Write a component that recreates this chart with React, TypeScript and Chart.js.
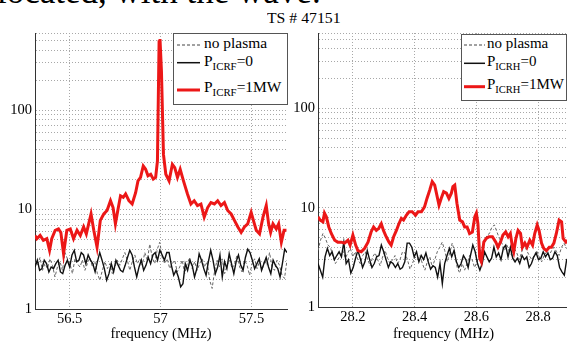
import React, { useEffect, useRef } from 'react';
import { Chart, registerables } from 'chart.js';

Chart.register(...registerables);

// ---------- data ----------
const TITLE = 'TS # 47151';
const X_TITLE = 'frequency (MHz)';
const Y_LABELS = [1, 10, 100];

// left panel (around 57 MHz)
const L_XTICKS = [56.5, 57, 57.5];
const L_XMIN = 56.31;
const L_XMAX = 57.695;
const L_YMAX = 600;
const L_RED_F = [56.310,56.320,56.338,56.356,56.375,56.390,56.402,56.421,56.439,56.452,
  56.467,56.485,56.504,56.522,56.541,56.559,56.577,56.592,56.605,56.618,
  56.633,56.651,56.669,56.688,56.706,56.725,56.739,56.752,56.765,56.780,
  56.795,56.808,56.826,56.844,56.863,56.876,56.890,56.905,56.918,56.931,
  56.946,56.960,56.973,56.983,56.992,56.997,57.005,57.016,57.029,57.047,
  57.065,57.078,57.093,57.108,57.126,57.148,57.167,57.185,57.203,57.222,
  57.240,57.259,57.277,57.296,57.314,57.332,57.351,57.369,57.388,57.406,
  57.425,57.443,57.461,57.479,57.498,57.513,57.526,57.544,57.563,57.581,
  57.594,57.605,57.618,57.636,57.649,57.664,57.679,57.692];
const L_RED = [5.5,5.1,5.5,4.9,5.1,3.9,5.1,6.2,6.4,5.9,
  3.6,6.2,6.4,5.1,6.2,5.5,6.7,5.7,7.2,9.05,
  6.2,4.2,7.8,9.05,9.8,12.3,10.5,7.2,9.8,13.8,
  13.3,14.4,12.3,11.4,14.8,19.5,21.1,27.5,25.5,21.9,
  22.7,20.3,21.1,30.9,490,521,245,36,22.7,19.5,
  28.6,26.5,21.1,25.5,19.5,14.4,11.4,12.3,11.0,11.4,
  8.4,10.5,11.8,11.4,12.3,11.0,11.8,9.8,9.05,7.8,
  6.7,5.9,6.7,7.2,9.4,7.5,6.2,5.7,8.4,11.0,
  7.2,5.9,7.2,6.4,7.2,4.7,6.2,6.2];
const L_BLACK = [2.65,3.1,2.45,2.55,3.1,2.86,2.36,2.65,2.55,2.86,3.1,2.36,2.27,2.75,3.1,2.65,3.5,3.9,3.0,3.1,
  3.7,3.5,2.86,3.5,3.1,2.86,2.36,3.0,3.7,3.1,2.55,1.95,2.27,2.86,2.36,3.1,2.75,2.45,2.36,2.75,
  3.3,3.9,3.5,2.65,2.1,2.65,3.1,2.45,2.75,3.3,2.86,3.5,3.7,3.1,3.9,3.5,3.1,3.7,3.7,2.75,
  2.19,2.45,2.1,1.67,1.8,2.86,2.45,3.1,2.75,2.1,2.55,3.6,3.1,2.55,2.19,3.0,3.9,3.1,2.27,2.65,
  3.5,2.1,3.0,2.55,3.6,2.86,2.27,3.0,3.5,2.75,2.45,3.3,4.0,3.7,3.1,2.55,2.86,3.2,2.45,2.86,
  3.3,2.65,2.27,3.1,2.75,2.55,2.1,2.86,4.0,3.7];
const L_NOPLASMA = [3.0,2.75,3.3,2.45,2.86,2.55,3.2,2.75,2.1,2.65,3.0,2.45,3.7,3.2,2.86,2.27,3.2,2.86,2.65,3.1,
  2.45,2.86,3.3,2.65,3.0,2.27,1.95,2.45,3.0,2.55,2.86,2.27,2.65,3.1,2.75,3.2,3.7,3.1,2.45,3.0,
  3.5,2.86,3.2,2.75,3.7,3.1,4.5,3.3,2.86,4.0,4.7,3.3,2.86,3.2,2.55,2.86,3.1,2.36,2.65,3.1,
  2.27,2.86,3.3,2.55,3.0,2.45,2.86,3.2,2.65,3.0,1.95,1.61,2.45,3.1,2.65,3.2,2.27,2.75,3.1,2.55,
  2.86,3.5,2.65,2.36,3.1,2.75,2.19,2.86,3.2,2.55,3.0,2.45,3.1,2.75,3.7,2.65,2.45,3.1,2.75,2.19,
  2.03,3.1];

// right panel (around 28.5 MHz)
const R_XTICKS = [28.2, 28.4, 28.6, 28.8];
const R_XMIN = 28.087;
const R_XMAX = 28.9;
const R_YMAX = 575;
const R_RED_F = [28.087,28.094,28.103,28.108,28.114,28.122,28.130,28.141,28.151,28.162,
  28.173,28.184,28.191,28.200,28.209,28.216,28.227,28.238,28.249,28.259,
  28.267,28.276,28.284,28.292,28.299,28.308,28.317,28.324,28.332,28.341,
  28.349,28.357,28.364,28.373,28.382,28.392,28.403,28.411,28.422,28.432,
  28.440,28.449,28.457,28.465,28.472,28.479,28.486,28.494,28.503,28.511,
  28.519,28.524,28.530,28.537,28.546,28.555,28.562,28.570,28.578,28.587,
  28.595,28.600,28.605,28.611,28.616,28.624,28.632,28.641,28.652,28.663,
  28.670,28.678,28.686,28.695,28.703,28.710,28.717,28.721,28.728,28.735,
  28.743,28.749,28.757,28.764,28.773,28.782,28.789,28.797,28.803,28.811,
  28.818,28.827,28.836,28.843,28.851,28.859,28.868,28.876,28.881,28.890,28.895];
const R_RED = [8.1,7.5,7.2,8.8,8.1,6.4,5.5,4.7,4.5,4.5,
  4.4,4.7,4.2,5.3,4.2,3.7,3.6,3.9,4.5,5.7,
  6.4,5.9,6.2,6.9,5.9,5.1,4.5,4.2,5.1,5.9,
  6.9,7.8,7.5,8.4,9.1,9.1,8.4,9.1,9.1,10.2,
  12.4,15.1,18.3,16.9,13.4,10.6,12.4,14.5,14.0,12.4,
  14.0,16.3,16.9,11.1,7.5,7.2,6.4,6.4,5.5,5.7,
  8.1,8.8,6.9,3.1,2.85,4.5,4.9,5.1,5.1,4.5,
  4.0,4.5,5.3,5.7,5.1,5.5,4.0,3.6,4.9,5.9,
  5.5,4.0,4.4,4.0,4.7,4.2,5.5,6.7,5.9,4.4,
  3.9,3.7,4.0,4.0,4.4,5.5,7.5,7.2,4.9,4.5,4.7];
const R_BLACK = [2.74,2.35,2.0,3.2,3.9,3.3,3.6,3.0,3.3,3.6,3.2,4.5,2.74,3.0,2.2,2.5,3.1,3.7,3.1,2.5,
  2.85,3.7,3.0,2.5,2.74,3.2,3.3,4.2,3.6,3.0,2.5,2.85,2.74,2.5,2.74,2.4,2.5,2.85,4.4,4.4,
  4.0,3.2,3.6,2.85,3.3,3.0,3.5,2.85,2.4,2.6,2.5,2.0,2.74,1.72,2.74,3.3,3.9,3.2,3.7,2.85,
  2.5,2.74,3.3,3.0,2.5,3.3,4.2,3.6,2.74,2.35,2.74,3.6,3.2,2.85,3.1,4.0,3.2,3.5,3.0,3.9,
  4.2,3.2,4.0,3.1,2.85,3.1,2.74,3.3,3.0,3.2,2.5,2.74,3.2,3.5,3.0,3.1,3.6,3.2,3.5,3.0,
  3.1,3.6,3.3,2.5,2.26,2.09,3.0,3.1];
const R_NOPLASMA = [3.7,4.7,5.5,4.9,4.2,4.0,3.2,2.74,3.0,3.3,3.7,3.1,3.5,3.9,3.2,3.6,3.0,2.74,3.3,3.6,
  3.0,2.6,3.2,3.5,3.0,2.6,3.2,3.7,3.1,2.74,3.0,3.3,2.74,3.0,3.6,3.5,3.0,2.4,2.74,3.2,
  3.0,3.3,2.74,2.35,2.85,3.2,2.5,3.0,3.6,4.0,4.5,3.7,2.85,3.5,4.4,3.6,2.5,2.2,2.74,2.35,
  2.74,3.3,3.0,2.5,2.85,3.5,4.0,4.5,5.3,5.5,6.4,6.7,5.7,4.9,4.4,3.7,4.2,3.6,3.3,3.9,
  3.5,3.0,3.6,4.2,3.7,3.3,3.0,3.3,3.7,3.2,2.85,3.3,3.6,3.3,3.7,4.0,3.6,3.3,4.0,4.4,
  3.9,4.0];

// ---------- helpers ----------
const SERIF = '"Liberation Serif", "Times New Roman", serif';
const RED = '#ec1717';

// evenly sampled frequency axis of a spectrum
const sampleAxis = (a: number, b: number, n: number) =>
  Array.from({ length: n }, (_, i) => a + ((b - a) * i) / (n - 1));

const logGridTicks = (max: number) => {
  const t: number[] = [];
  for (let e = 0; e < 3; e++) {
    for (let m = 1; m <= 9; m++) {
      const v = m * Math.pow(10, e);
      if (v <= max) t.push(v);
    }
  }
  if (t[t.length - 1] !== max) t.push(max);
  return t;
};

type PanelProps = {
  left: number;
  width: number;
  xMin: number;
  xMax: number;
  xTicks: number[];
  yMax: number;
  redF: number[];
  red: number[];
  black: number[];
  dashed: number[];
  yAxisWidth: number;
  xAxisHeight: number;
  padRight: number;
};

function Panel(p: PanelProps) {
  const ref = useRef<HTMLCanvasElement | null>(null);
  useEffect(() => {
    if (!ref.current) return;
    const fb = sampleAxis(p.xMin, p.xMax, p.black.length);
    const fd = sampleAxis(p.xMin, p.xMax, p.dashed.length);
    const font = { family: SERIF, size: 14.5 };
    const chart = new Chart(ref.current, {
      type: 'line',
      data: {
        datasets: [
          {
            label: '1MW',
            data: p.redF.map((x, i) => ({ x, y: p.red[i] })),
            borderColor: RED,
            borderWidth: 3,
            pointRadius: 0,
            tension: 0,
            fill: false,
          },
          {
            label: '0',
            data: fb.map((x, i) => ({ x, y: p.black[i] })),
            borderColor: '#111',
            borderWidth: 1.4,
            pointRadius: 0,
            tension: 0,
            fill: false,
          },
          {
            label: 'no plasma',
            data: fd.map((x, i) => ({ x, y: p.dashed[i] })),
            borderColor: '#666',
            borderWidth: 1,
            borderDash: [3, 2],
            pointRadius: 0,
            tension: 0,
            fill: false,
          },
        ],
      },
      options: {
        animation: false,
        responsive: false,
        devicePixelRatio: 1,
        events: [],
        layout: { padding: { top: 33, right: p.padRight, left: 0, bottom: 0 } },
        plugins: { legend: { display: false }, tooltip: { enabled: false } },
        scales: {
          x: {
            type: 'linear',
            min: p.xMin,
            max: p.xMax,
            bounds: 'data',
            afterBuildTicks: (s: any) => {
              s.ticks = p.xTicks.map((v) => ({ value: v }));
            },
            afterFit: (s: any) => {
              s.height = p.xAxisHeight;
            },
            ticks: {
              autoSkip: false,
              maxRotation: 0,
              padding: 1,
              color: '#000',
              font,
              callback: (v: any) => String(v),
            },
            grid: { color: '#a8a8a8', lineWidth: 1, drawTicks: false },
            border: { display: true, color: '#333', width: 1, dash: [1, 2] },
            title: {
              display: true,
              text: X_TITLE,
              color: '#000',
              font,
              padding: { top: 0, bottom: 0 },
            },
          },
          y: {
            type: 'logarithmic',
            min: 1,
            max: p.yMax,
            afterBuildTicks: (s: any) => {
              s.ticks = logGridTicks(p.yMax).map((v) => ({ value: v }));
            },
            afterFit: (s: any) => {
              s.width = p.yAxisWidth;
            },
            ticks: {
              autoSkip: false,
              padding: 3,
              color: '#000',
              font,
              callback: (v: any) => (Y_LABELS.includes(Number(v)) ? String(v) : ''),
            },
            grid: { color: '#a8a8a8', lineWidth: 1, drawTicks: false },
            border: { display: true, color: '#333', width: 1, dash: [1, 2] },
          },
        },
      } as any,
    });
    return () => chart.destroy();
  }, []);
  return (
    <canvas
      ref={ref}
      width={p.width}
      height={343}
      style={{ position: 'absolute', left: p.left, top: 0, width: p.width, height: 343 }}
    />
  );
}

type LegendProps = {
  left: number;
  top: number;
  width: number;
  height: number;
  sub: string;
  lineX1: number;
  lineX2: number;
  textX: number;
  lineY: number[];
  baseY: number[];
  dashText: string;
  stretch: number;
};

function Legend(l: LegendProps) {
  const fs = 15;
  const rowTop = (b: number) => b - l.top - 0.8375 * fs;
  const txt: React.CSSProperties = {
    position: 'absolute',
    left: l.textX - l.left,
    fontSize: fs,
    lineHeight: `${fs}px`,
    whiteSpace: 'nowrap',
    color: '#000',
    transform: `scaleX(${l.stretch})`,
    transformOrigin: 'left center',
  };
  const subStyle: React.CSSProperties = { fontSize: 10.5, position: 'relative', top: 4 };
  return (
    <div
      style={{
        position: 'absolute',
        left: l.left,
        top: l.top,
        width: l.width,
        height: l.height,
        boxSizing: 'border-box',
        border: '1px solid #555',
        background: '#fff',
        zIndex: 2,
        fontFamily: SERIF,
      }}
    >
      <svg
        width={l.width}
        height={l.height}
        style={{ position: 'absolute', left: -1, top: -1 }}
      >
        <line x1={l.lineX1 - l.left} x2={l.lineX2 - l.left} y1={l.lineY[0] - l.top} y2={l.lineY[0] - l.top} stroke="#444" strokeWidth={1} strokeDasharray="3,2" />
        <line x1={l.lineX1 - l.left} x2={l.lineX2 - l.left} y1={l.lineY[1] - l.top} y2={l.lineY[1] - l.top} stroke="#111" strokeWidth={1.5} />
        <line x1={l.lineX1 - l.left} x2={l.lineX2 - l.left} y1={l.lineY[2] - l.top} y2={l.lineY[2] - l.top} stroke={RED} strokeWidth={3} />
      </svg>
      <div style={{ ...txt, top: rowTop(l.baseY[0]) - 1 }}>{l.dashText}</div>
      <div style={{ ...txt, top: rowTop(l.baseY[1]) - 1 }}>
        P<span style={subStyle}>{l.sub}</span>=0
      </div>
      <div style={{ ...txt, top: rowTop(l.baseY[2]) - 1 }}>
        P<span style={subStyle}>{l.sub}</span>=1MW
      </div>
    </div>
  );
}

export default function App() {
  return (
    <div
      style={{
        position: 'fixed',
        left: 0,
        top: 0,
        width: 567,
        height: 343,
        overflow: 'hidden',
        background: '#fff',
        fontFamily: SERIF,
      }}
    >
      <div
        style={{
          position: 'absolute',
          left: -3,
          top: -26,
          fontSize: 35,
          lineHeight: '35px',
          whiteSpace: 'nowrap',
          color: '#000',
        }}
      >
        located, with the wave.
      </div>
      <div
        style={{
          position: 'absolute',
          left: 267,
          top: 11,
          fontSize: 15,
          lineHeight: '15px',
          whiteSpace: 'nowrap',
          color: '#000',
          transform: 'scaleX(1.05)',
          transformOrigin: 'left center',
        }}
      >
        {TITLE}
      </div>
      <Panel
        left={0}
        width={290}
        xMin={L_XMIN}
        xMax={L_XMAX}
        xTicks={L_XTICKS}
        yMax={L_YMAX}
        redF={L_RED_F}
        red={L_RED}
        black={L_BLACK}
        dashed={L_NOPLASMA}
        yAxisWidth={35}
        xAxisHeight={34}
        padRight={3}
      />
      <Panel
        left={290}
        width={290}
        xMin={R_XMIN}
        xMax={R_XMAX}
        xTicks={R_XTICKS}
        yMax={R_YMAX}
        redF={R_RED_F}
        red={R_RED}
        black={R_BLACK}
        dashed={R_NOPLASMA}
        yAxisWidth={28}
        xAxisHeight={36}
        padRight={11}
      />
      <Legend
        left={173}
        top={33}
        width={115}
        height={72}
        sub="ICRF"
        lineX1={177}
        lineX2={200}
        textX={203}
        lineY={[45, 62.7, 90]}
        baseY={[48.3, 66.7, 92.7]}
        dashText="no plasma"
        stretch={1.03}
      />
      <Legend
        left={461}
        top={34}
        width={106}
        height={67}
        sub="ICRH"
        lineX1={464}
        lineX2={485}
        textX={486}
        lineY={[45, 63.3, 86.7]}
        baseY={[48.3, 66.7, 89.3]}
        dashText="no plasma"
        stretch={1.0}
      />
    </div>
  );
}
